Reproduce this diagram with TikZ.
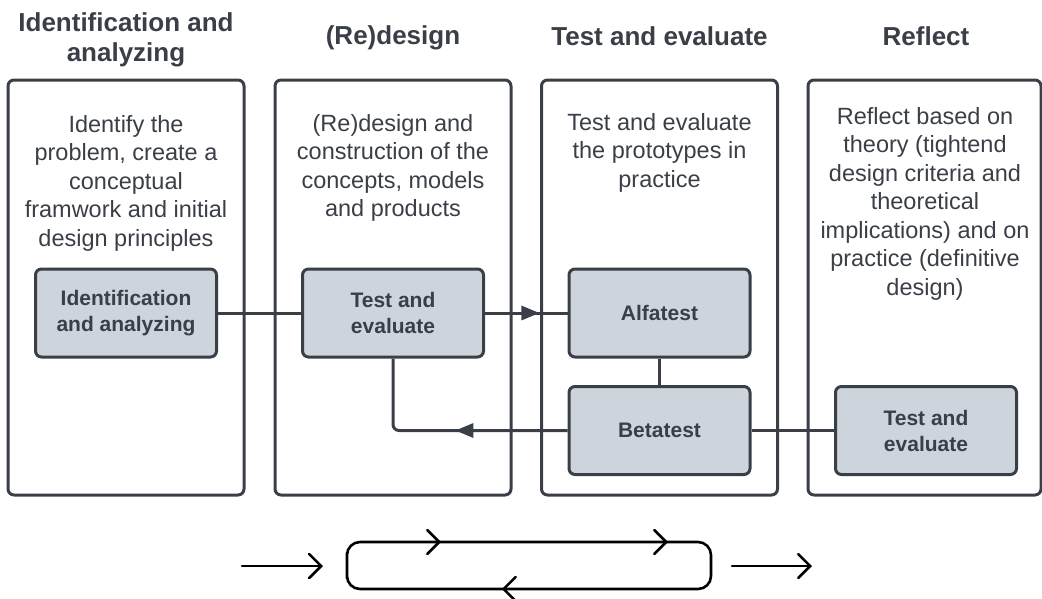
\documentclass[tikz,border=0pt]{standalone}
\usepackage{fontspec}
\setmainfont{Liberation Sans}
\usetikzlibrary{arrows.meta,decorations.markings,calc}

\definecolor{inkgray}{HTML}{3A3F47}
\definecolor{boxfill}{HTML}{CED4DC}

\tikzset{
    colbox/.style={draw=inkgray, line width=3pt, rounded corners=6pt,
        minimum width=236pt, minimum height=415pt},
    stepbox/.style={draw=inkgray, fill=boxfill, line width=3pt, rounded corners=6pt,
        minimum width=181pt, minimum height=88pt, align=center, text=inkgray,
        font=\bfseries\fontsize{21}{26}\selectfont},
    headtxt/.style={align=center, text=inkgray, font=\bfseries\fontsize{26}{30}\selectfont},
    bodytxt/.style={align=center, text=inkgray, anchor=north, inner sep=0pt,
        font=\fontsize{23.5}{28.5}\selectfont},
    conn/.style={draw=inkgray, line width=3pt},
    midarrow/.style={postaction={decorate}, decoration={markings,
        mark=at position #1 with {\arrow{Triangle[length=18pt,width=14pt]}}}},
    cycline/.style={draw=black, line width=2.6pt, line cap=round},
    barb/.style={-{Straight Barb[length=12pt,width=24pt,line cap=round]}},
}

\begin{document}
\begin{tikzpicture}[x=1pt, y=1pt]
    \useasboundingbox (0,0) rectangle (1042,-598);

    % 四列外框
    \node[colbox] (col1) at (126,-287.5) {};
    \node[colbox] (col2) at (393,-287.5) {};
    \node[colbox] (col3) at (659.5,-287.5) {};
    \node[colbox, minimum width=233pt] (col4) at (924.5,-287.5) {};

    % 标题
    \node[headtxt] (head1) at (126,-39.5) {Identification and\\analyzing};
    \node[headtxt] (head2) at (393,-38) {(Re)design};
    \node[headtxt] (head3) at (659.5,-36) {Test and evaluate};
    \node[headtxt] (head4) at (926,-36) {Reflect};

    % 说明文字
    \node[bodytxt] (txt1) at (126,-115) {Identify the\\problem, create a\\conceptual\\framwork and initial\\design principles};
    \node[bodytxt] (txt2) at (393,-114) {(Re)design and\\construction of the\\concepts, models\\and products};
    \node[bodytxt] (txt3) at (659.5,-113) {Test and evaluate\\the prototypes in\\practice};
    \node[bodytxt] (txt4) at (925,-107) {Reflect based on\\theory (tightend\\design criteria and\\theoretical\\implications) and on\\practice (definitive\\design)};

    % 步骤框
    \node[stepbox] (ident) at (126,-313) {Identification\\and analyzing};
    \node[stepbox] (redes) at (393,-313) {Test and\\evaluate};
    \node[stepbox] (alfa) at (659.5,-313) {Alfatest};
    \node[stepbox] (beta) at (659.5,-430.5) {Betatest};
    \node[stepbox] (refl) at (926,-430.5) {Test and\\evaluate};

    % 连线
    \draw[conn] (ident.east) -- (redes.west);
    \draw[conn, midarrow=0.66] (redes.east) -- (alfa.west);
    \draw[conn] (alfa.south) -- (beta.north);
    \draw[conn, rounded corners=6pt, midarrow=0.46] (beta.west) -| (redes.south);
    \draw[conn] (beta.east) -- (refl.west);

    % 底部循环符号
    \coordinate (inL) at (242,-566);
    \coordinate (inR) at (323,-566);
    \coordinate (outL) at (732,-566);
    \coordinate (outR) at (812,-566);
    \draw[cycline, barb] (inL) -- (inR);
    \draw[cycline, barb] (outL) -- (outR);
    \draw[cycline, rounded corners=13pt, postaction={decorate}, decoration={markings,
        mark=at position 104pt with {\arrow{Straight Barb[length=12pt,width=24pt,line cap=round]}},
        mark=at position 331pt with {\arrow{Straight Barb[length=12pt,width=24pt,line cap=round]}},
        mark=at position 619pt with {\arrow{Straight Barb[length=12pt,width=24pt,line cap=round]}}}]
        (347,-565.5) |- (711,-542) |- (347,-589) -- cycle;
\end{tikzpicture}
\end{document}
